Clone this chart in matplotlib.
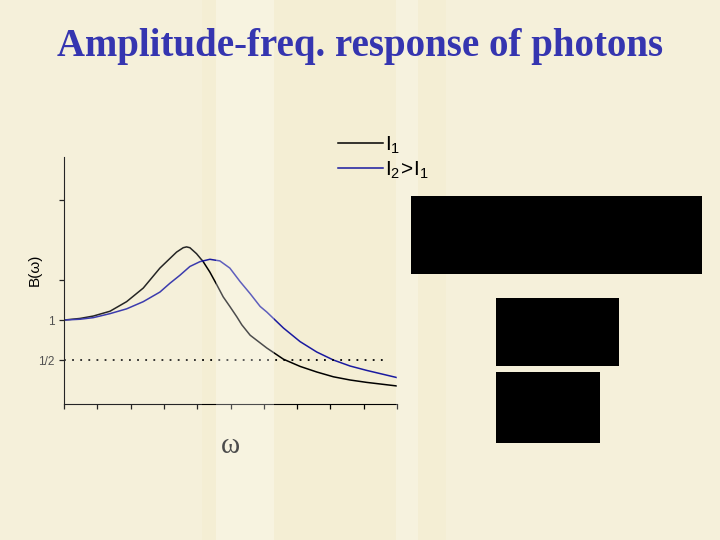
import matplotlib
matplotlib.use("Agg")
import matplotlib.pyplot as plt
from matplotlib.lines import Line2D
from matplotlib.patches import Rectangle

# values (omega in tick units, B relative to B(0)=1)
omega_1 = [0.0, 0.48, 0.88, 1.38, 1.88, 2.38, 2.88, 3.18, 3.38, 3.58, 3.68, 3.78,
           3.98, 4.18, 4.38, 4.59, 4.78, 4.98, 5.19, 5.34, 5.59, 6.09, 6.59, 7.09,
           7.59, 8.09, 8.59, 9.09, 10.0]
b_1 = [1.0, 1.02, 1.05, 1.11, 1.23, 1.40, 1.65, 1.77, 1.85, 1.905, 1.915, 1.905,
       1.83, 1.73, 1.60, 1.44, 1.29, 1.17, 1.04, 0.94, 0.81, 0.65, 0.51, 0.42,
       0.35, 0.29, 0.25, 0.22, 0.175]

omega_2 = [0.0, 0.48, 0.88, 1.38, 1.88, 2.38, 2.88, 3.18, 3.48, 3.78, 4.08, 4.38,
           4.68, 4.98, 5.29, 5.59, 5.89, 6.09, 6.59, 7.09, 7.59, 8.09, 8.59, 9.09, 10.0]
b_2 = [1.0, 1.01, 1.03, 1.08, 1.14, 1.23, 1.35, 1.46, 1.56, 1.67, 1.73, 1.76,
       1.74, 1.65, 1.48, 1.33, 1.17, 1.10, 0.90, 0.73, 0.60, 0.50, 0.425, 0.37, 0.28]

half_level = 0.5
ytick_vals = [0.5, 1.0, 1.5, 2.5]
ytick_labels = ["1/2", "1", "", ""]
legend_labels = [r"$\mathregular{I_1}$", r"$\mathregular{I_2\!>\!I_1}$"]

fig = plt.figure(figsize=(7.2, 5.4), dpi=100)
fig.patch.set_facecolor("#f4eed4")

# faint background texture of the slide
for x0, w, a in [(0.0, 0.28, 0.15), (0.30, 0.08, 0.3), (0.55, 0.03, 0.25), (0.62, 0.38, 0.15)]:
    fig.patches.append(Rectangle((x0, 0), w, 1, transform=fig.transFigure,
                                 facecolor="white", alpha=a, edgecolor="none", zorder=0))

fig.text(0.5, 0.913, "Amplitude-freq. response of photons", ha="center", va="center",
         fontsize=28, fontweight="bold", family="Liberation Serif", color="#3535b0")

ax = fig.add_axes([0.0889, 0.2519, 0.4625, 0.4574])
ax.set_facecolor("none")
ax.plot(omega_1, b_1, color="black", lw=1.1, solid_joinstyle="round")
ax.plot(omega_2, b_2, color="#1a1aa0", lw=1.1, solid_joinstyle="round")
ax.plot([0, 9.64], [half_level, half_level], color="black", lw=1.3, ls=(0, (1, 3.5)))

ax.set_xlim(0, 10)
ax.set_ylim(-0.05, 3.04)
for s in ["top", "right"]:
    ax.spines[s].set_visible(False)
ax.set_xticks(range(11))
ax.set_xticklabels([])
ax.set_yticks(ytick_vals)
ax.set_yticklabels(ytick_labels, family="Liberation Sans", fontsize=8.5, color="#333333")
ax.tick_params(length=3.5, width=0.9)

ax.set_xlabel("ω", family="Liberation Serif", fontsize=21, labelpad=14)
fig.text(0.048, 0.50, "B(ω)", rotation=90, ha="center", va="center",
         family="Liberation Sans", fontsize=11)

handles = [Line2D([], [], color="black", lw=1.1), Line2D([], [], color="#1a1aa0", lw=1.1)]
fig.legend(handles, legend_labels, loc="upper left", bbox_to_anchor=(0.444, 0.786),
           frameon=False, handlelength=2.15, handletextpad=0.1,
           labelspacing=0.2, prop={"family": "Liberation Sans", "size": 15})

# redaction boxes on the slide
for (x0, y0, x1, y1) in [(411, 196, 702, 274), (496, 298, 619, 366), (496, 372, 600, 443)]:
    fig.patches.append(Rectangle((x0 / 720, 1 - y1 / 540), (x1 - x0) / 720, (y1 - y0) / 540,
                                 transform=fig.transFigure, facecolor="black",
                                 edgecolor="none", zorder=3))

fig.savefig("out.png", dpi=100, facecolor=fig.get_facecolor())
